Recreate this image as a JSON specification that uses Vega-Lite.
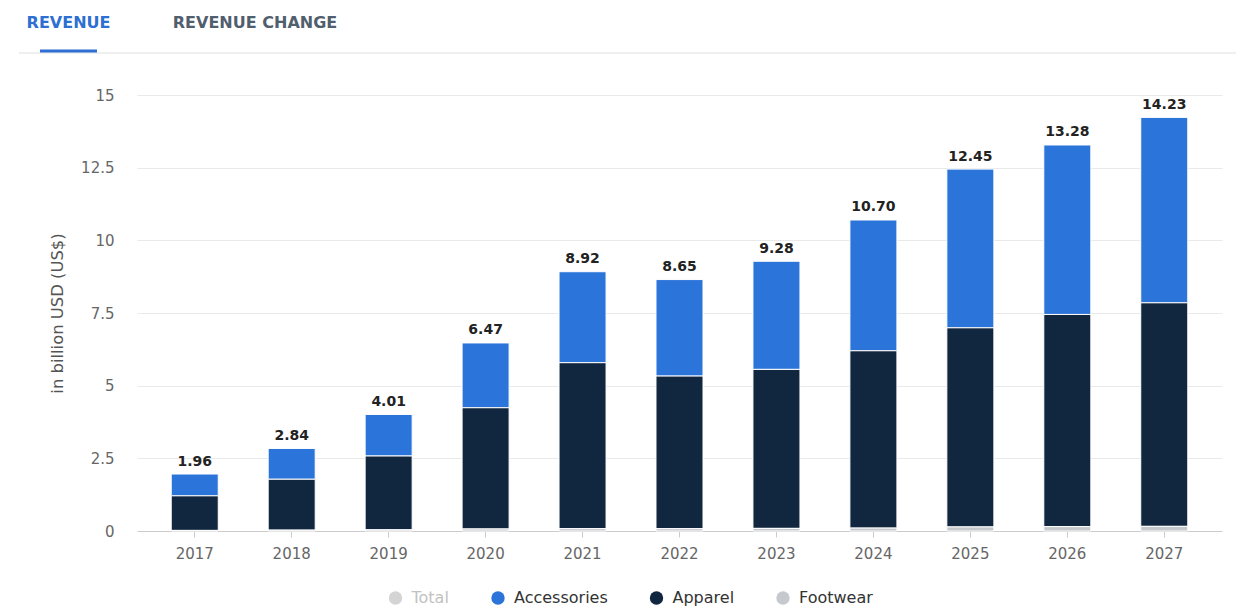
{
  "$schema": "https://vega.github.io/schema/vega-lite/v6.json",
  "autosize": {"type": "pad"},
  "padding": {"left": 18, "top": 0, "right": 0, "bottom": 0},
  "background": "white",
  "bounds": "flush",
  "spacing": 42,
  "config": {
    "view": {"stroke": null},
    "font": "DejaVu Sans"
  },
  "datasets": {
    "tabs": [
      {"tab": "REVENUE", "active": "yes"},
      {"tab": "REVENUE CHANGE", "active": "no"}
    ],
    "revenue": [
      {"year": "2017", "segment": "Total", "value": 1.96},
      {"year": "2017", "segment": "Accessories", "value": 0.75},
      {"year": "2017", "segment": "Apparel", "value": 1.19},
      {"year": "2017", "segment": "Footwear", "value": 0.02},
      {"year": "2018", "segment": "Total", "value": 2.84},
      {"year": "2018", "segment": "Accessories", "value": 1.06},
      {"year": "2018", "segment": "Apparel", "value": 1.75},
      {"year": "2018", "segment": "Footwear", "value": 0.03},
      {"year": "2019", "segment": "Total", "value": 4.01},
      {"year": "2019", "segment": "Accessories", "value": 1.43},
      {"year": "2019", "segment": "Apparel", "value": 2.54},
      {"year": "2019", "segment": "Footwear", "value": 0.04},
      {"year": "2020", "segment": "Total", "value": 6.47},
      {"year": "2020", "segment": "Accessories", "value": 2.23},
      {"year": "2020", "segment": "Apparel", "value": 4.17},
      {"year": "2020", "segment": "Footwear", "value": 0.07},
      {"year": "2021", "segment": "Total", "value": 8.92},
      {"year": "2021", "segment": "Accessories", "value": 3.13},
      {"year": "2021", "segment": "Apparel", "value": 5.71},
      {"year": "2021", "segment": "Footwear", "value": 0.08},
      {"year": "2022", "segment": "Total", "value": 8.65},
      {"year": "2022", "segment": "Accessories", "value": 3.32},
      {"year": "2022", "segment": "Apparel", "value": 5.25},
      {"year": "2022", "segment": "Footwear", "value": 0.08},
      {"year": "2023", "segment": "Total", "value": 9.28},
      {"year": "2023", "segment": "Accessories", "value": 3.72},
      {"year": "2023", "segment": "Apparel", "value": 5.47},
      {"year": "2023", "segment": "Footwear", "value": 0.09},
      {"year": "2024", "segment": "Total", "value": 10.70},
      {"year": "2024", "segment": "Accessories", "value": 4.50},
      {"year": "2024", "segment": "Apparel", "value": 6.10},
      {"year": "2024", "segment": "Footwear", "value": 0.10},
      {"year": "2025", "segment": "Total", "value": 12.45},
      {"year": "2025", "segment": "Accessories", "value": 5.46},
      {"year": "2025", "segment": "Apparel", "value": 6.85},
      {"year": "2025", "segment": "Footwear", "value": 0.14},
      {"year": "2026", "segment": "Total", "value": 13.28},
      {"year": "2026", "segment": "Accessories", "value": 5.83},
      {"year": "2026", "segment": "Apparel", "value": 7.30},
      {"year": "2026", "segment": "Footwear", "value": 0.15},
      {"year": "2027", "segment": "Total", "value": 14.23},
      {"year": "2027", "segment": "Accessories", "value": 6.38},
      {"year": "2027", "segment": "Apparel", "value": 7.69},
      {"year": "2027", "segment": "Footwear", "value": 0.16}
    ]
  },
  "vconcat": [
    {
      "width": 1218,
      "height": 53,
      "data": {"name": "tabs"},
      "layer": [
        {
          "mark": {"type": "rule", "color": "#eeeeee", "strokeWidth": 1.5},
          "encoding": {
            "y": {"datum": 0, "type": "quantitative", "scale": {"domain": [0, 1]}, "axis": null}
          }
        },
        {
          "mark": {"type": "text", "fontSize": 16, "fontWeight": "bold", "baseline": "alphabetic", "dy": 1},
          "encoding": {
            "x": {"field": "tab", "type": "nominal", "scale": {"type": "point", "domain": ["REVENUE", "REVENUE CHANGE"], "range": [49.5, 236], "padding": 0}, "axis": null},
            "text": {"field": "tab"},
            "color": {"condition": {"test": "datum.active === 'yes'", "value": "#2d6fd2"}, "value": "#505e6e"}
          }
        },
        {
          "transform": [{"filter": "datum.active === 'yes'"}],
          "mark": {"type": "point", "shape": "stroke", "size": 3249, "strokeWidth": 3, "stroke": "#2d6fd2", "filled": false, "opacity": 1, "yOffset": 24.5},
          "encoding": {
            "x": {"field": "tab", "type": "nominal", "scale": {"type": "point", "domain": ["REVENUE", "REVENUE CHANGE"], "range": [49.5, 236], "padding": 0}, "axis": null}
          }
        }
      ]
    },
    {
      "spacing": 0,
      "bounds": "flush",
      "hconcat": [
        {
          "width": 117.5,
          "height": 436,
          "data": {"values": []},
          "mark": "point"
        },
        {
          "width": 1085,
          "height": 436,
          "data": {"name": "revenue"},
          "encoding": {
            "x": {
              "field": "year",
              "type": "ordinal",
              "scale": {"paddingInner": 0.515, "paddingOuter": 0.353},
              "axis": {"title": null, "labelAngle": 0, "labelFontSize": 15, "labelColor": "#666666", "labelPadding": 9, "tickColor": "#cccccc", "tickSize": 6, "domainColor": "#cccccc", "grid": false}
            }
          },
          "layer": [
            {
              "transform": [{"filter": "datum.segment !== 'Total'"}],
              "mark": {"type": "bar", "stroke": "white", "strokeWidth": 1},
              "encoding": {
                "y": {
                  "field": "value",
                  "type": "quantitative",
                  "stack": "zero",
                  "scale": {"domain": [0, 15], "nice": false},
                  "axis": {"title": "in billion USD (US$)", "values": [0, 2.5, 5, 7.5, 10, 12.5, 15], "labelExpr": "datum.value + ''", "domain": false, "ticks": false, "labelPadding": 23, "labelFontSize": 15, "labelColor": "#666666", "gridColor": "#e9e9e9", "titleFontSize": 16.4, "titleFontWeight": "normal", "titleColor": "#555555", "titlePadding": 15}
                },
                "color": {
                  "field": "segment",
                  "type": "nominal",
                  "scale": {"domain": ["Total", "Accessories", "Apparel", "Footwear"], "range": ["#d4d4d4", "#2a74da", "#11263f", "#c5c8cc"]},
                  "legend": {"orient": "none", "legendX": 368.5, "legendY": 590, "direction": "horizontal", "title": null, "symbolType": "circle", "symbolSize": 180, "symbolStrokeWidth": 0, "labelFontSize": 16, "labelColor": {"expr": "datum.label === 'Total' ? '#c2c2c2' : '#333333'"}, "columnPadding": 40.5, "labelOffset": 8, "padding": 0}
                },
                "order": {"field": "segment", "sort": "descending"}
              }
            },
            {
              "transform": [{"filter": "datum.segment === 'Total'"}],
              "mark": {"type": "text", "baseline": "alphabetic", "dy": -8.5, "fontSize": 14, "fontWeight": "bold", "color": "#222222"},
              "encoding": {
                "y": {"field": "value", "type": "quantitative"},
                "text": {"field": "value", "type": "quantitative", "format": ".2f"}
              }
            }
          ]
        }
      ]
    }
  ]
}
